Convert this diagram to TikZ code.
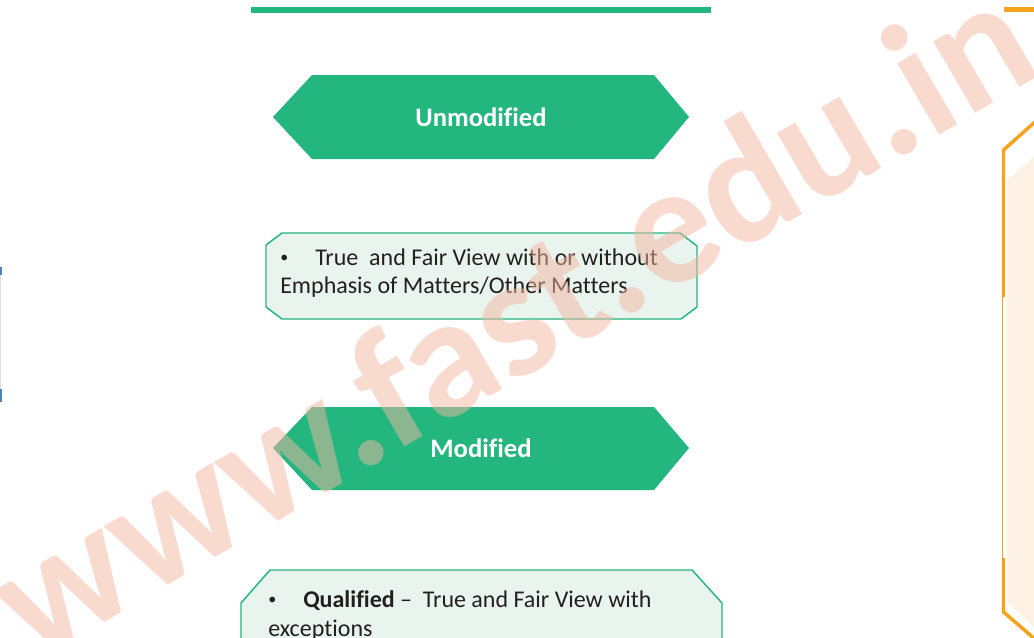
\documentclass[tikz,border=0pt]{standalone}
\usepackage{fontspec}
\setmainfont{Carlito}[Ligatures=NoCommon]
\definecolor{verde}{RGB}{35,182,127}
\definecolor{verdeclaro}{RGB}{233,244,238}
\definecolor{laranja}{RGB}{247,162,28}
\definecolor{creme}{RGB}{253,242,227}
\definecolor{azul}{RGB}{79,129,189}
\definecolor{marca}{RGB}{243,182,161}
\definecolor{tinta}{RGB}{35,31,32}
\newcommand{\marcador}{\makebox[26.25pt][l]{\raisebox{2pt}{\fontsize{12}{12}\selectfont\mdseries•}}}

\begin{document}
\begin{tikzpicture}[x=0.75pt,y=-0.75pt,
	titulo/.style = {text=white,font=\fontsize{20}{24}\selectfont\bfseries},
	linha/.style = {text=tinta,anchor=base west,inner sep=0pt,font=\fontsize{18}{21}\selectfont},
	caixa/.style = {fill=verdeclaro,draw=verde,line width=1.1pt},
	selo/.style = {text=marca,text opacity=0.5,anchor=base,rotate=30.3,inner sep=0pt,font=\fontsize{128}{136}\selectfont\bfseries}]
		\clip (0,0) rectangle (1034,637);
		\fill[white] (0,0) rectangle (1034,637);
		
		\fill[verde] (251,7) rectangle (711,13);
		
		\fill[verde] (273,117) -- (312,75) -- (654,75) -- (689,117) -- (654,159) -- (312,159) -- cycle;
		\node[titulo] (unmod) at (481,117) {Unmodified};
		
		\draw[caixa] (282,233) -- (680,233) -- (697,246) -- (697,307) -- (681,319) -- (282,319) -- (266,307) -- (266,245) -- cycle;
		\node[linha] (a1) at (280,265) {\marcador True\ \ and Fair View with or without};
		\node[linha] (a2) at (280,293) {Emphasis of Matters/Other Matters};
		
		\fill[verde] (273,448) -- (312,407) -- (654,407) -- (689,448) -- (654,490) -- (312,490) -- cycle;
		\node[titulo] (mod) at (481,448) {Modified};
		
		\draw[caixa] (270,570) -- (692,570) -- (722,603) -- (722,660) -- (241,660) -- (241,603) -- cycle;
		\node[linha] (b1) at (268,607) {\marcador\textbf{Qualified} –\ \ True and Fair View with};
		\node[linha] (b2) at (268,636) {exceptions};
		
		\fill[laranja] (1004,7) rectangle (1034,12);
		\fill[creme] (1007,180) -- (1034,157) -- (1034,627) -- (1007,602) -- cycle;
		\draw[laranja, line width=2.6pt] (1036,121) -- (1003.5,150) -- (1003.5,297);
		\draw[laranja, line width=1pt] (1002.5,297) -- (1002.5,558);
		\draw[laranja, line width=2.6pt] (1003.5,558) -- (1003.5,612) -- (1036,640);
		
		\fill[azul] (0,267) rectangle (2,275);
		\draw[black!12] (0.5,275) -- (0.5,389);
		\fill[azul] (0,389) rectangle (2,402);
		
		\node[selo] (site) at (540,368) {www.fast.edu.in};
	\end{tikzpicture}
\end{document}
